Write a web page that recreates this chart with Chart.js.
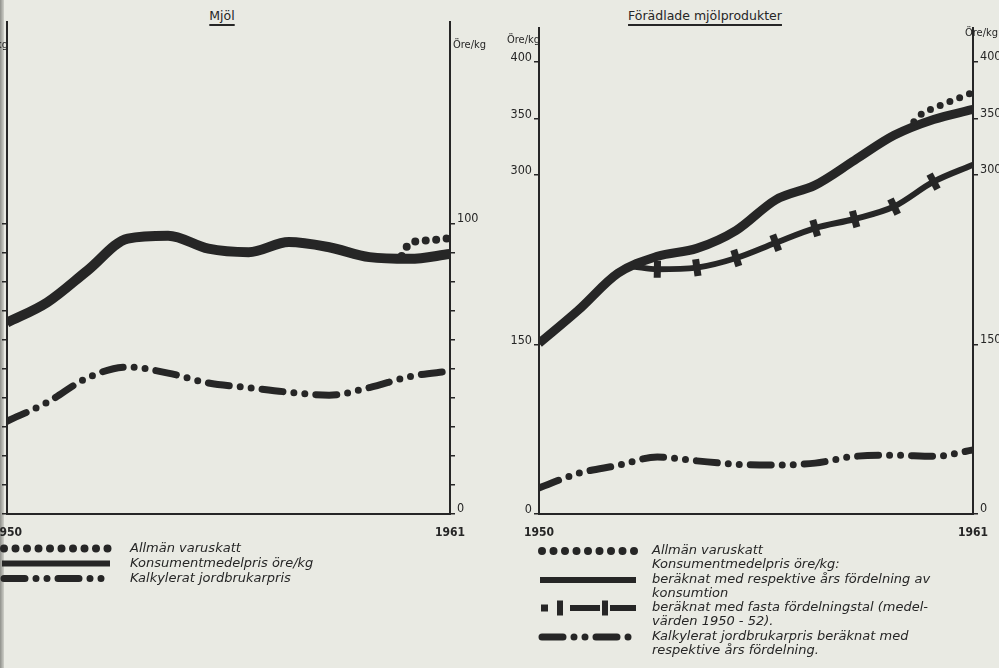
<!DOCTYPE html>
<html>
<head>
<meta charset="utf-8">
<script src="https://cdn.jsdelivr.net/npm/chart.js@4"></script>
<style>
body { margin: 0; width: 999px; height: 668px; background: #e9eae3; overflow: hidden; position: relative;
       font-family: 'DejaVu Sans', sans-serif; color: #262626; }
.box { position: absolute; }
.gutter { position: absolute; left: 0; top: 0; width: 4px; height: 668px; background: linear-gradient(to right, #8f908b, #cfd0c9); }
.title { position: absolute; top: 8px; font-size: 12.5px; text-decoration: underline; text-decoration-thickness: 1.5px;
         text-underline-offset: 4px; transform: translateX(-50%); white-space: nowrap; }
.leg { position: absolute; font-style: italic; font-size: 13px; white-space: nowrap; }
.smp { position: absolute; }
</style>
</head>
<body>
<div class="gutter"></div>
<div class="title" style="left:222px">Mjöl</div>
<div class="title" style="left:705px">Förädlade mjölprodukter</div>

<div class="box" style="left:-60px;top:0;width:560px;height:542px"><canvas id="mjol"></canvas></div>
<div class="box" style="left:470px;top:0;width:529px;height:542px"><canvas id="prod"></canvas></div>

<canvas class="smp" id="s1" width="112" height="15" style="left:0;top:541px"></canvas>
<canvas class="smp" id="s2" width="112" height="15" style="left:0;top:556px"></canvas>
<canvas class="smp" id="s3" width="112" height="15" style="left:0;top:571px"></canvas>
<div class="leg" style="left:130px;top:540px;line-height:15px">Allmän varuskatt<br>Konsumentmedelpris öre/kg<br>Kalkylerat jordbrukarpris</div>

<canvas class="smp" id="r1" width="100" height="14" style="left:538px;top:544px"></canvas>
<canvas class="smp" id="r2" width="100" height="14" style="left:538px;top:573px"></canvas>
<canvas class="smp" id="r3" width="100" height="16" style="left:538px;top:600px"></canvas>
<canvas class="smp" id="r4" width="100" height="14" style="left:538px;top:630px"></canvas>
<div class="leg" style="left:652px;top:543px;line-height:14.3px">Allmän varuskatt<br>Konsumentmedelpris öre/kg:<br>beräknat med respektive års fördelning av<br>konsumtion<br>beräknat med fasta fördelningstal (medel-<br>värden 1950 - 52).<br>Kalkylerat jordbrukarpris beräknat med<br>respektive års fördelning.</div>

<script>
const years = [1950, 1951, 1952, 1953, 1954, 1955, 1956, 1957, 1958, 1959, 1960, 1961];

// Mjöl
const mjolKonsument = [66, 73, 84, 95, 96, 91.5, 90.3, 93.8, 92, 88.6, 88, 89.7];
const mjolKalkylerat = [32, 38.5, 47, 50.7, 48.6, 45.2, 43.6, 42, 41, 43.6, 47.4, 49.3];
const mjolSkattAr = [1959.8, 1960, 1960.5, 1961];
const mjolSkatt = [89, 93.4, 94.4, 95.2];

// Förädlade mjölprodukter
const prodKonsument = [151, 180.5, 213, 228, 235, 251, 278, 291, 313, 335, 349, 358];
const prodFastaAr = [1952.4, 1953, 1954, 1955, 1956, 1957, 1958, 1959, 1960, 1961];
const prodFasta = [219, 216.5, 218, 226.5, 240, 253, 261, 272, 294, 309];
const prodSkattAr = [1959.5, 1959.7, 1960, 1961];
const prodSkatt = [347, 354, 359, 373];
const prodKalkylerat = [23, 36, 43, 50.4, 47, 44, 43.4, 45, 51, 52, 51, 56.6];

const mjolTicks = [0, 10, 20, 30, 40, 50, 60, 70, 80, 90, 100];
const mjolTickLabels = [0, 100];
const prodTicks = [0, 150, 300, 350, 400];
const xLabels = [1950, 1961];

const ink = '#262626';
const dotDash = [0, 10.5];
const kalkDash = [21, 11, 0, 11, 0, 11];

function pts(xs, ys) { return xs.map((x, i) => ({ x: x, y: ys[i] })); }

function barAngle(ctx) {
  const c = ctx.chart, d = ctx.dataset.data, i = ctx.dataIndex;
  const a = d[Math.max(i - 1, 0)], b = d[Math.min(i + 1, d.length - 1)];
  const dx = c.scales.x.getPixelForValue(b.x) - c.scales.x.getPixelForValue(a.x);
  const dy = c.scales.y.getPixelForValue(b.y) - c.scales.y.getPixelForValue(a.y);
  return Math.atan2(dy, dx) * 180 / Math.PI + 90;
}

const unitLabels = {
  id: 'unitLabels',
  afterDraw(chart, args, opts) {
    const g = chart.ctx, a = chart.chartArea;
    g.save();
    g.fillStyle = ink;
    g.font = '11px "DejaVu Sans Condensed", "DejaVu Sans"';
    g.textBaseline = 'middle';
    (opts.items || []).forEach(it => {
      g.textAlign = it.side === 'left' ? 'right' : 'left';
      g.fillText(it.text, (it.side === 'left' ? a.left : a.right) + it.dx, it.y);
    });
    g.restore();
  }
};

function yAxis(pos, max, ticks, labels, width, labelOffset) {
  return {
    type: 'linear', position: pos, min: 0, max: max,
    afterBuildTicks: s => { s.ticks = ticks.map(v => ({ value: v })); },
    afterFit: s => { s.width = width; },
    ticks: {
      autoSkip: false, padding: 2, labelOffset: labelOffset, color: ink,
      font: { family: '"DejaVu Sans Condensed", "DejaVu Sans"', size: 12.5 },
      callback: v => labels.includes(v) ? String(v) : ''
    },
    grid: { display: true, drawOnChartArea: false, drawTicks: true, tickLength: 5, color: ink, lineWidth: 1.5 },
    border: { display: true, color: ink, width: 2 }
  };
}

function options(cfg) {
  return {
    responsive: true, maintainAspectRatio: false, animation: false,
    layout: { padding: { top: cfg.top, left: 0, right: 0, bottom: 0 } },
    plugins: { legend: { display: false }, tooltip: { enabled: false }, unitLabels: { items: cfg.units } },
    elements: { point: { radius: 0 }, line: { cubicInterpolationMode: 'monotone', borderColor: ink } },
    scales: {
      x: {
        type: 'linear', min: 1950, max: 1961,
        afterBuildTicks: s => { s.ticks = xLabels.map(v => ({ value: v })); },
        afterFit: s => { s.height = 28; },
        ticks: { autoSkip: false, maxRotation: 0, padding: 4, color: ink, callback: v => String(v),
                 font: { family: '"DejaVu Sans Condensed", "DejaVu Sans"', size: 12, weight: 'bold' } },
        grid: { display: false },
        border: { display: true, color: ink, width: 2 }
      },
      y: yAxis('left', cfg.max, cfg.ticks, cfg.leftLabels, cfg.leftWidth, -4),
      y2: yAxis('right', cfg.max, cfg.ticks, cfg.rightLabels, cfg.rightWidth, -5)
    }
  };
}

new Chart(document.getElementById('mjol'), {
  type: 'line',
  data: {
    datasets: [
      { data: pts(mjolSkattAr, mjolSkatt), borderWidth: 8, borderDash: dotDash, borderCapStyle: 'round' },
      { data: pts(years, mjolKonsument), borderWidth: 10 },
      { data: pts(years, mjolKalkylerat), borderWidth: 7, borderDash: kalkDash, borderCapStyle: 'round' }
    ]
  },
  options: options({
    top: 22, max: 169.7, ticks: mjolTicks, leftLabels: [], rightLabels: mjolTickLabels,
    leftWidth: 67, rightWidth: 50,
    units: [{ side: 'left', text: 'Öre/kg', dx: 1, y: 45 }, { side: 'right', text: 'Öre/kg', dx: 3, y: 45 }]
  }),
  plugins: [unitLabels]
});

new Chart(document.getElementById('prod'), {
  type: 'line',
  data: {
    datasets: [
      { data: pts(prodSkattAr, prodSkatt), borderWidth: 7, borderDash: dotDash, borderCapStyle: 'round' },
      { data: pts(years, prodKonsument), borderWidth: 9 },
      { data: pts(prodFastaAr, prodFasta), borderWidth: 6,
        pointStyle: 'line', pointBorderColor: ink, pointBorderWidth: 7,
        pointRadius: c => (c.dataIndex === 0 || c.dataIndex === prodFasta.length - 1) ? 0 : 8.5,
        pointRotation: barAngle },
      { data: pts(years, prodKalkylerat), borderWidth: 7, borderDash: kalkDash, borderCapStyle: 'round' }
    ]
  },
  options: options({
    top: 28, max: 430, ticks: prodTicks, leftLabels: prodTicks, rightLabels: prodTicks,
    leftWidth: 69, rightWidth: 26,
    units: [{ side: 'left', text: 'Öre/kg', dx: 1, y: 40 }, { side: 'right', text: 'Öre/kg', dx: -8, y: 33 }]
  }),
  plugins: [unitLabels]
});

// legend samples
function sample(id, kind) {
  const cv = document.getElementById(id), g = cv.getContext('2d');
  const w = cv.width, y = cv.height / 2;
  g.strokeStyle = ink; g.fillStyle = ink;
  g.beginPath();
  if (kind === 'dots') {
    g.lineWidth = 8; g.lineCap = 'round'; g.setLineDash([0, 11.5]);
    g.moveTo(4, y); g.lineTo(w - 3, y);
  } else if (kind === 'solid') {
    g.lineWidth = 6; g.moveTo(2, y); g.lineTo(w - 2, y);
  } else if (kind === 'kalk') {
    g.lineWidth = 7; g.lineCap = 'round'; g.setLineDash(kalkDash);
    g.moveTo(4, y); g.lineTo(w - 2, y);
  } else if (kind === 'fasta') {
    g.lineWidth = 6; g.moveTo(32, y); g.lineTo(62, y); g.moveTo(72, y); g.lineTo(w - 2, y);
    g.fillRect(3, y - 3.5, 7, 7); g.fillRect(19, y - 7.5, 6, 15); g.fillRect(64, y - 7.5, 6, 15);
  }
  g.stroke();
}
sample('s1', 'dots'); sample('s2', 'solid'); sample('s3', 'kalk');
sample('r1', 'dots'); sample('r2', 'solid'); sample('r3', 'fasta'); sample('r4', 'kalk');
</script>
</body>
</html>
